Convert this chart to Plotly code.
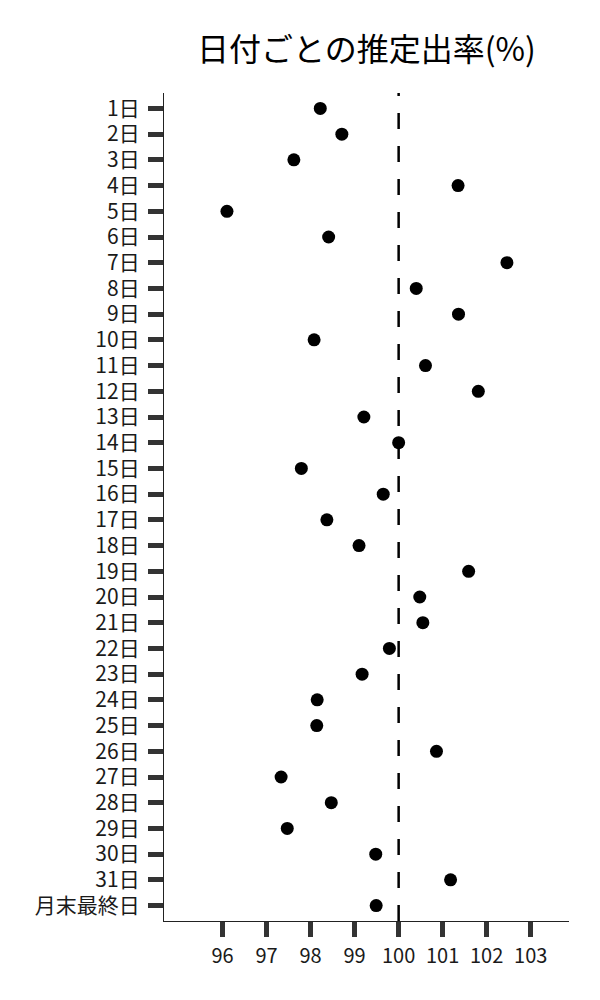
import plotly.graph_objects as go

days = [f"{i}日" for i in range(1, 32)] + ["月末最終日"]
rates = [98.22, 98.71, 97.62, 101.35, 96.10, 98.41, 102.46, 100.40, 101.36, 98.08,
         100.61, 101.81, 99.21, 100.00, 97.79, 99.65, 98.37, 99.10, 101.59, 100.48,
         100.55, 99.79, 99.17, 98.15, 98.14, 100.86, 97.33, 98.47, 97.47, 99.48,
         101.18, 99.49]
x_ticks = [96, 97, 98, 99, 100, 101, 102, 103]
ref_value = 100
title_text = "日付ごとの推定出率(%)"

FONT = "Noto Sans CJK JP"

fig = go.Figure()
fig.add_trace(go.Scatter(
    x=rates, y=days, mode="markers",
    marker=dict(color="black", size=13),
    showlegend=False, hoverinfo="x+y",
))

fig.add_shape(type="line", x0=ref_value, x1=ref_value, xref="x",
              y0=0, y1=1, yref="paper",
              line=dict(color="black", width=2.5, dash="16px,17px"),
              layer="below")

# page body has an 8px default margin, so the figure is sized to fit the window
fig.update_layout(
    width=584, height=984,
    paper_bgcolor="white", plot_bgcolor="white",
    margin=dict(l=156, r=23, t=85, b=71),
    font=dict(family=FONT, size=20, color="#1a1a1a"),
    title=dict(text=title_text, x=0.5, xref="paper", xanchor="center",
               y=1 - 42 / 984, yref="container", yanchor="middle",
               font=dict(family=FONT, size=32, color="black")),
)

fig.update_xaxes(
    range=[94.67, 103.87], tickvals=x_ticks, ticktext=[str(v) for v in x_ticks],
    showgrid=False, zeroline=False,
    showline=True, linecolor="#222222", linewidth=1.3,
    ticks="outside", ticklen=15, tickwidth=5, tickcolor="#333333",
    ticklabelstandoff=2,
    tickfont=dict(family=FONT, size=20, color="#1a1a1a"),
)
fig.update_yaxes(
    type="category", categoryorder="array", categoryarray=days,
    range=[len(days) - 1 + 0.6, -0.6],
    showgrid=False, zeroline=False,
    showline=True, linecolor="#222222", linewidth=1.3,
    ticks="outside", ticklen=15, tickwidth=5, tickcolor="#333333",
    ticklabelstandoff=4,
    tickfont=dict(family=FONT, size=21, color="#1a1a1a"),
)

fig.write_html("out.html")
